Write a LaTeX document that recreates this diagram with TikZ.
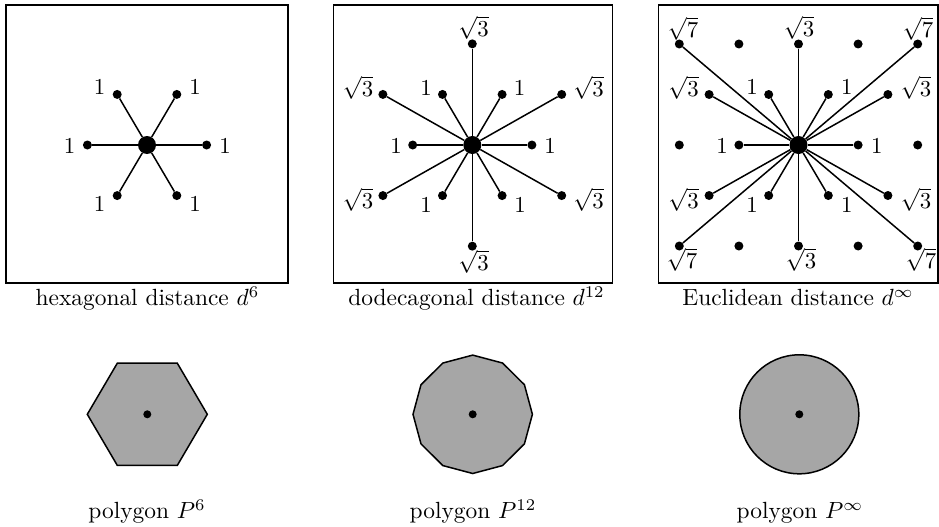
\documentclass[tikz,border=0pt]{standalone}
\usepackage{graphicx}
\newcommand{\bigtxt}[1]{\scalebox{2.28}{#1}}
\newcommand{\captxt}[1]{\scalebox{2.34}{#1}}
\begin{document}
\begin{tikzpicture}[x=1pt,y=-1pt,
  dot/.style={circle,fill=black,inner sep=0pt,minimum size=9pt},
  bigdot/.style={circle,fill=black,inner sep=0pt,minimum size=18pt},
  spoke/.style={line width=1.5pt},
  frame/.style={line width=1.4pt},
  lab/.style={inner sep=0pt},
  captext/.style={inner sep=0pt,anchor=base},
  poly/.style={line width=1.5pt,fill=black!35}]
\useasboundingbox (0,0) rectangle (939,527);

% ---------- panel 1: hexagonal distance ----------
\draw[frame] (6,5) rectangle (288,283);
\node[bigdot] (hc) at (147,145) {};
\foreach \k in {0,...,5} {
  \node[dot] (h\k) at ({147+59.6*cos(60*\k)},{145-58.4*sin(60*\k)}) {};
  \draw[spoke] (hc) -- (h\k);
}
\node[lab] (hl0) at (225,146) {\bigtxt{1}};
\node[lab] (hl1) at (195,87) {\bigtxt{1}};
\node[lab] (hl2) at (99.5,87) {\bigtxt{1}};
\node[lab] (hl3) at (69.5,146) {\bigtxt{1}};
\node[lab] (hl4) at (99.5,204) {\bigtxt{1}};
\node[lab] (hl5) at (195,204) {\bigtxt{1}};
\node[captext] (hcap) at (147.5,305.5) {\captxt{hexagonal distance $d^6$}};

% ---------- panel 2: dodecagonal distance ----------
\draw[frame] (333.3,5) rectangle (612.3,283);
\node[bigdot] (dc) at (472.3,145) {};
\foreach \k in {0,...,5} {
  \node[dot] (d\k) at ({472.3+59.6*cos(60*\k)},{145-58.4*sin(60*\k)}) {};
  \node[dot] (s\k) at ({472.3+1.732*59.6*cos(30+60*\k)},{145-1.732*58.4*sin(30+60*\k)}) {};
  \draw[spoke] (dc) -- (d\k);
  \draw[spoke] (dc) -- (s\k);
}
\node[lab] (dl0) at (550,146) {\bigtxt{1}};
\node[lab] (dl1) at (519.5,88) {\bigtxt{1}};
\node[lab] (dl2) at (426,88) {\bigtxt{1}};
\node[lab] (dl3) at (396,146) {\bigtxt{1}};
\node[lab] (dl4) at (426,204.5) {\bigtxt{1}};
\node[lab] (dl5) at (520,204.5) {\bigtxt{1}};
\node[lab] (sl0) at (588.5,88) {\bigtxt{$\sqrt{3}$}};
\node[lab] (sl1) at (473.5,28) {\bigtxt{$\sqrt{3}$}};
\node[lab] (sl2) at (358,88) {\bigtxt{$\sqrt{3}$}};
\node[lab] (sl3) at (358,200) {\bigtxt{$\sqrt{3}$}};
\node[lab] (sl4) at (473.5,262) {\bigtxt{$\sqrt{3}$}};
\node[lab] (sl5) at (588.5,200) {\bigtxt{$\sqrt{3}$}};
\node[captext] (dcap) at (476.5,305.5) {\captxt{dodecagonal distance $d^{12}$}};

% ---------- panel 3: Euclidean distance ----------
\draw[frame] (658.3,5) rectangle (938,283);
\node[bigdot] (ecen) at (798.5,145) {};
\foreach \u/\j/\n in {1/0/a, 0.5/1/b, -0.5/1/c, -1/0/d, -0.5/-1/e, 0.5/-1/f,
                      1.5/1/g, 0/2/h, -1.5/1/i, -1.5/-1/j, 0/-2/k, 1.5/-1/l,
                      2/2/m, -2/2/n, -2/-2/o, 2/-2/p} {
  \node[dot] (e\n) at ({798.5+59.6*\u},{145-50.5*\j}) {};
  \draw[spoke] (ecen) -- (e\n);
}
\foreach \u/\j/\n in {2/0/q, -2/0/r, 1/2/s, -1/2/t, 1/-2/u, -1/-2/v} {
  \node[dot] (e\n) at ({798.5+59.6*\u},{145-50.5*\j}) {};
}
\node[lab] (el1) at (683,28.5) {\bigtxt{$\sqrt{7}$}};
\node[lab] (el2) at (799,28) {\bigtxt{$\sqrt{3}$}};
\node[lab] (el3) at (918,28.5) {\bigtxt{$\sqrt{7}$}};
\node[lab] (el4) at (683.5,88) {\bigtxt{$\sqrt{3}$}};
\node[lab] (el5) at (752,87) {\bigtxt{1}};
\node[lab] (el6) at (846.7,87) {\bigtxt{1}};
\node[lab] (el7) at (916,88) {\bigtxt{$\sqrt{3}$}};
\node[lab] (el8) at (722,146) {\bigtxt{1}};
\node[lab] (el9) at (876.7,146) {\bigtxt{1}};
\node[lab] (el10) at (683.5,200) {\bigtxt{$\sqrt{3}$}};
\node[lab] (el11) at (752,204.5) {\bigtxt{1}};
\node[lab] (el12) at (846.7,204.5) {\bigtxt{1}};
\node[lab] (el13) at (916,200) {\bigtxt{$\sqrt{3}$}};
\node[lab] (el14) at (682,260) {\bigtxt{$\sqrt{7}$}};
\node[lab] (el15) at (801,260) {\bigtxt{$\sqrt{3}$}};
\node[lab] (el16) at (921,260) {\bigtxt{$\sqrt{7}$}};
\node[captext] (ecap) at (798,305.5) {\captxt{Euclidean distance $d^\infty$}};

% ---------- polygons ----------
\draw[poly] (207.3,414.3) \foreach \k in {1,...,5} { -- ({147.3+60*cos(60*\k)},{414.3-59*sin(60*\k)}) } -- cycle;
\node[dot,minimum size=8pt] (hp) at (147.3,414.3) {};
\node[captext] (hpcap) at (147,518.5) {\captxt{polygon $P^6$}};

\draw[poly] (532.4,414.3) \foreach \k in {1,...,11} { -- ({472.7+59.7*cos(30*\k)},{414.3-59.2*sin(30*\k)}) } -- cycle;
\node[dot,minimum size=8pt] (dp) at (472.7,414.3) {};
\node[captext] (dpcap) at (473,518.5) {\captxt{polygon $P^{12}$}};

\draw[poly] (799.3,414.3) circle[radius=59.5pt];
\node[dot,minimum size=8pt] (ep) at (799.3,414.3) {};
\node[captext] (epcap) at (800,518.5) {\captxt{polygon $P^\infty$}};
\end{tikzpicture}
\end{document}
